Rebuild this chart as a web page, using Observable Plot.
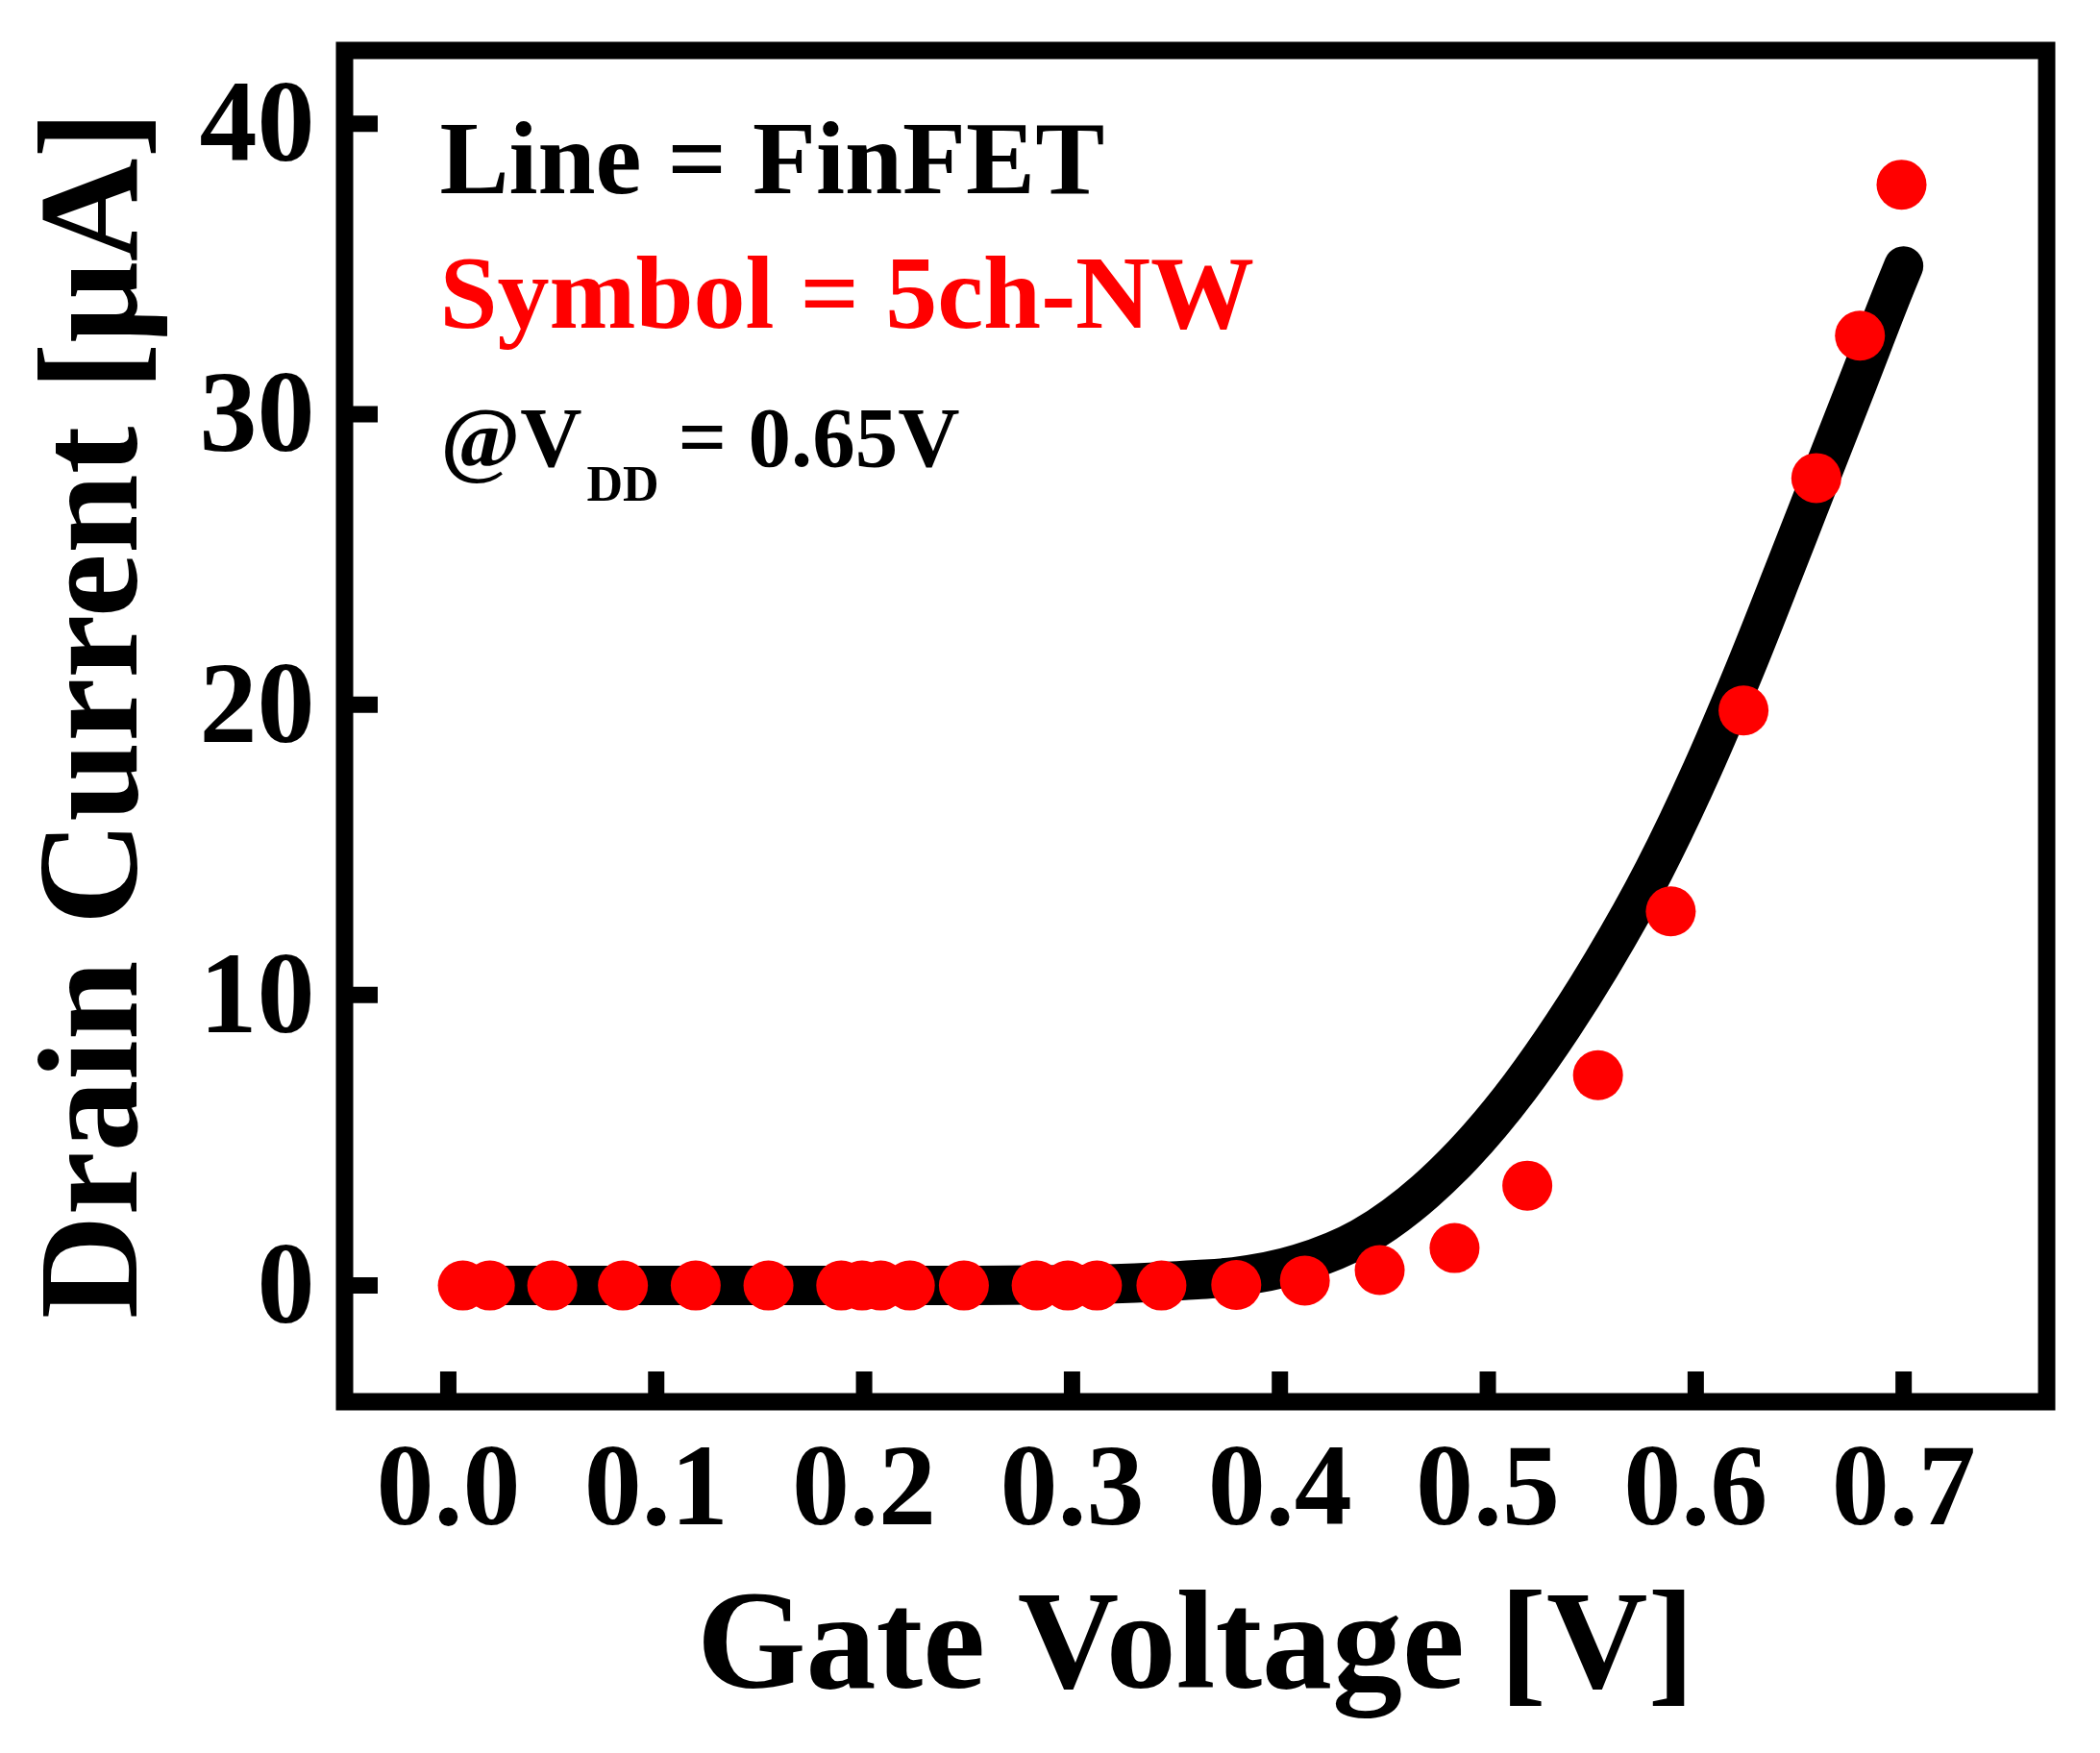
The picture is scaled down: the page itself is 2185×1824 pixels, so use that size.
<!DOCTYPE html>
<html>
<head>
<meta charset="utf-8">
<script src="https://cdn.jsdelivr.net/npm/d3@7"></script>
<script src="https://cdn.jsdelivr.net/npm/@observablehq/plot@0.6"></script>
<style>
  html, body { margin: 0; padding: 0; background: #ffffff; }
  #chart svg { display: block; }
</style>
</head>
<body>
<div id="chart"></div>
<script>
// FinFET (line) – gate voltage [V] and drain current [µA]
const finfetV = [0.010, 0.050, 0.100, 0.150, 0.200, 0.250, 0.300, 0.340, 0.360, 0.378, 0.409, 0.440, 0.470, 0.488, 0.5155, 0.536, 0.5555, 0.580, 0.603, 0.624, 0.642, 0.6537, 0.660, 0.678, 0.696, 0.700];
const finfetI = [0.00, 0.00, 0.00, 0.00, 0.00, 0.00, 0.03, 0.12, 0.20, 0.30, 0.75, 1.68, 3.25, 4.50, 6.85, 8.94, 11.16, 14.30, 17.75, 21.28, 24.52, 26.66, 27.81, 31.10, 34.40, 35.10];

// 5ch-NW (symbols)
const nwV = [0.007, 0.020, 0.050, 0.084, 0.119, 0.154, 0.189, 0.199, 0.208, 0.222, 0.248, 0.283, 0.298, 0.312, 0.343, 0.379, 0.412, 0.448, 0.484, 0.519, 0.553, 0.588, 0.623, 0.658, 0.679, 0.699];
const nwI = [0, 0, 0, 0, 0, 0, 0, 0, 0, 0, 0, 0, 0, 0, 0, 0.02, 0.17, 0.53, 1.29, 3.44, 7.24, 12.88, 19.8, 27.8, 32.7, 37.9];

const xTicks = [0.0, 0.1, 0.2, 0.3, 0.4, 0.5, 0.6, 0.7];
const yTicks = [0, 10, 20, 30, 40];
const xDomain = [-0.0499, 0.7688];
const yDomain = [-4.0, 42.52];

const xTitle = "Gate Voltage [V]";
const yTitle = "Drain Current [μA]";
const legendLine = "Line = FinFET";
const legendSymbol = "Symbol = 5ch-NW";
const vddMain = "@V";
const vddSub = "DD";
const vddValue = "= 0.65V";

const finfet = finfetV.map((v, k) => ({v, i: finfetI[k]}));
const nw = nwV.map((v, k) => ({v, i: nwI[k]}));

const FONT = "'Liberation Serif', 'Times New Roman', serif";

const chart = Plot.plot({
  width: 2185,
  height: 1824,
  marginLeft: 358,
  marginRight: 56,
  marginTop: 52,
  marginBottom: 366,
  style: {fontFamily: FONT, fontWeight: "bold", fontSize: "120px", background: "#ffffff", color: "#000000"},
  x: {domain: xDomain},
  y: {domain: yDomain},
  marks: [
    Plot.line(finfet, {x: "v", y: "i", stroke: "#000000", strokeWidth: 41, curve: "monotone-x", strokeLinecap: "round", strokeLinejoin: "round"}),
    Plot.dot(nw, {x: "v", y: "i", r: 26, fill: "#ff0000", stroke: "none"}),
    Plot.frame({stroke: "#000000", strokeWidth: 18}),
    Plot.axisX(xTicks, {tickSize: -31, tickPadding: 73, strokeWidth: 17, fontSize: 120, fontWeight: "bold", tickFormat: d3.format(".1f"), label: null}),
    Plot.axisY(yTicks, {tickSize: -35, tickPadding: 66, strokeWidth: 17, fontSize: 120, fontWeight: "bold", tickFormat: d3.format("d"), label: null}),
    Plot.text([xTitle], {text: d => d, frameAnchor: "bottom", textAnchor: "middle", lineAnchor: "bottom", dy: 297, fontSize: 146, fontWeight: "bold", fill: "#000000"}),
    Plot.text([yTitle], {text: d => d, frameAnchor: "left", textAnchor: "middle", rotate: -90, lineAnchor: "top", dx: -322, dy: -12, fontSize: 149, fontWeight: "bold", fill: "#000000"}),
    Plot.text([legendLine], {text: d => d, frameAnchor: "top-left", textAnchor: "start", lineAnchor: "bottom", dx: 99, dy: 148, fontSize: 108, fontWeight: "bold", fill: "#000000"}),
    Plot.text([legendSymbol], {text: d => d, frameAnchor: "top-left", textAnchor: "start", lineAnchor: "bottom", dx: 99, dy: 288, fontSize: 108, fontWeight: "bold", fill: "#ff0000"}),
    Plot.text([vddMain], {text: d => d, frameAnchor: "top-left", textAnchor: "start", lineAnchor: "bottom", dx: 100, dy: 432, fontSize: 89, fontWeight: "bold", fill: "#000000"}),
    Plot.text([vddSub], {text: d => d, frameAnchor: "top-left", textAnchor: "start", lineAnchor: "bottom", dx: 252, dy: 468, fontSize: 52, fontWeight: "bold", fill: "#000000"}),
    Plot.text([vddValue], {text: d => d, frameAnchor: "top-left", textAnchor: "start", lineAnchor: "bottom", dx: 347, dy: 432, fontSize: 89, fontWeight: "bold", fill: "#000000"})
  ]
});

document.getElementById("chart").appendChild(chart);
</script>
</body>
</html>
